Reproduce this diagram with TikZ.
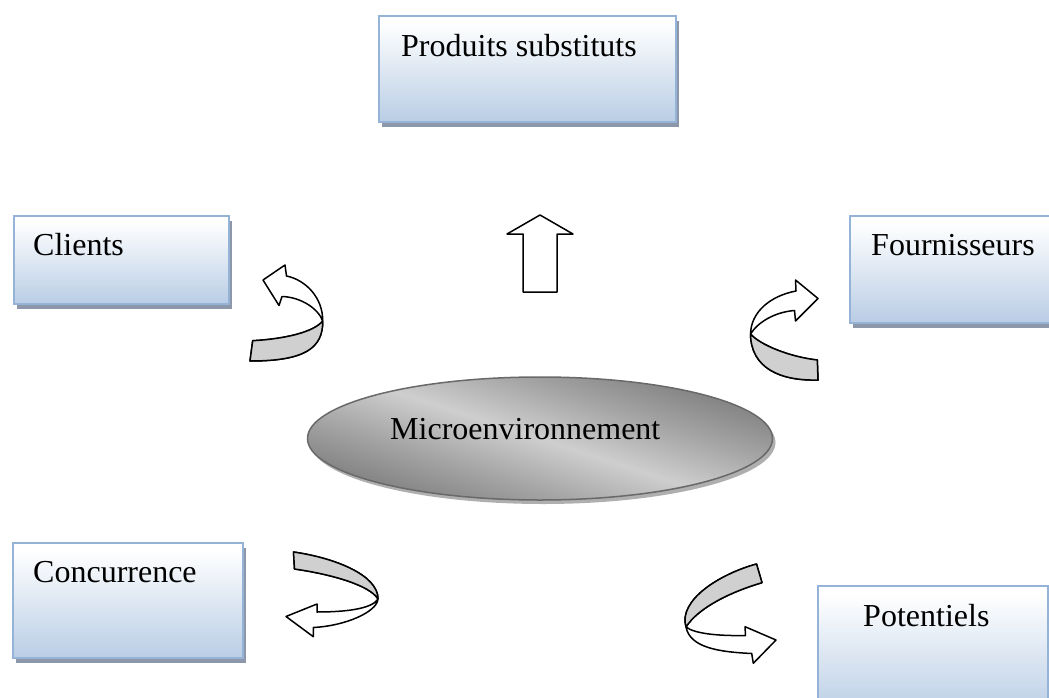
\documentclass[tikz,border=0pt]{standalone}
\usepackage{fontspec}
\setmainfont{Liberation Serif}
\usetikzlibrary{shapes.geometric,shadows}
\definecolor{boxblue}{RGB}{185,205,229}
\definecolor{boxline}{RGB}{149,179,215}
\definecolor{boxshadow}{RGB}{140,152,170}
\definecolor{elldark}{RGB}{125,125,125}
\definecolor{ellmid}{RGB}{165,165,165}
\definecolor{elllight}{RGB}{206,206,206}
\definecolor{ellline}{RGB}{105,105,105}
\definecolor{ellshadow}{RGB}{175,175,175}
\definecolor{ribbon}{RGB}{208,208,208}
\pgfdeclareverticalshading{boxsh}{100bp}{color(0bp)=(boxblue); color(25bp)=(boxblue); color(72bp)=(white); color(100bp)=(white)}
\pgfdeclareverticalshading{ellsh}{100bp}{color(0bp)=(elldark); color(25bp)=(elldark); color(38bp)=(ellmid); color(50bp)=(elllight); color(62bp)=(ellmid); color(75bp)=(elldark); color(100bp)=(elldark)}
\tikzset{
  box/.style={rectangle, draw=boxline, line width=2pt, shade, shading=boxsh, anchor=north west, inner sep=0pt,
    drop shadow={shadow xshift=3pt, shadow yshift=-5pt, fill=boxshadow, opacity=1}},
  lbl/.style={font=\fontsize{32}{38}\selectfont, inner sep=0pt, anchor=base west},
  rib/.style={line width=1.5pt, line join=round, draw=black},
}
\begin{document}
\begin{tikzpicture}[x=1pt,y=-1pt]
\useasboundingbox (0,0) rectangle (1049,698);
\clip (0,0) rectangle (1049,698);
% boxes
\node[box, minimum width=297pt, minimum height=106pt] (ps) at (378,15) {};
\node[box, minimum width=215pt, minimum height=88pt] (cl) at (13,215) {};
\node[box, minimum width=215pt, minimum height=107pt] (fo) at (849,215) {};
\node[box, minimum width=230pt, minimum height=115pt] (co) at (12,542) {};
\node[box, minimum width=230pt, minimum height=130pt] (po) at (817,585) {};
\node[lbl] (pst) at (401,57) {Produits substituts};
\node[lbl] (clt) at (33,255) {Clients};
\node[lbl] (fot) at (871,255) {Fournisseurs};
\node[lbl] (cot) at (33,582) {Concurrence};
\node[lbl] (pot) at (863,626) {Potentiels};
% ellipse
\node[ellipse, minimum width=465pt, minimum height=123pt, draw=ellline, line width=1.5pt,
  shade, shading=ellsh, shading angle=-18,
  drop shadow={shadow xshift=3pt, shadow yshift=-4pt, fill=ellshadow, opacity=1}] (me) at (540,438.5) {};
\node[lbl] (met) at (390,439) {Microenvironnement};
% up arrow
\filldraw[rib, fill=white] (540,215) -- (573,234) -- (557,234) -- (557,292) -- (523,292) -- (523,234) -- (507,234) -- cycle;
% Clients arrow
\filldraw[rib, fill=white] (286.5,276) .. controls (306,280) and (323,298) .. (322.7,321) .. controls (323,348) and (305,361) .. (250,361) -- (252.7,340.7) .. controls (285,339) and (314,332) .. (322.7,321) .. controls (318,308) and (300,297) .. (282,296.5) -- (279,305.5) -- (263,280) -- (285,265) -- cycle;
\filldraw[rib, fill=ribbon] (322.7,321) .. controls (323,348) and (305,361) .. (250,361) -- (252.7,340.7) .. controls (285,339) and (314,332) .. cycle;
% Fournisseurs arrow
\filldraw[rib, fill=white] (796,291) .. controls (770,296) and (751,312) .. (750.5,334) .. controls (751,368) and (780,381) .. (818,380) -- (817.3,360) .. controls (790,357) and (760,345) .. (750.5,334) .. controls (758,322) and (775,312) .. (794.5,310.5) -- (795.5,321) -- (818,298.5) -- (795.5,280) -- cycle;
\filldraw[rib, fill=ribbon] (750.5,334) .. controls (751,368) and (780,381) .. (818,380) -- (817.3,360) .. controls (790,357) and (760,345) .. cycle;
% Concurrence arrow
\filldraw[rib, fill=white] (293.5,552) .. controls (335,558) and (378,575) .. (378,599) .. controls (377,612) and (345,626) .. (313.3,627.5) -- (313.3,636.7) -- (286,616.5) -- (317,604) -- (317,612) .. controls (345,612) and (372,609) .. (378,599) .. controls (370,585) and (330,574) .. (294.5,569) -- cycle;
\filldraw[rib, fill=ribbon] (293.5,552) .. controls (335,558) and (378,575) .. (378,599) .. controls (370,585) and (330,574) .. (294.5,569) -- cycle;
% Potentiels arrow
\filldraw[rib, fill=white] (756.5,564) .. controls (720,574) and (678,600) .. (686,627) .. controls (690,648) and (720,652) .. (751.7,653.5) -- (753.3,663.3) -- (776,640) -- (745,626.7) -- (745.5,635.5) .. controls (720,636) and (695,634) .. (686,627) .. controls (698,608) and (730,592) .. (762,582.7) -- cycle;
\filldraw[rib, fill=ribbon] (756.5,564) .. controls (720,574) and (678,600) .. (686,627) .. controls (698,608) and (730,592) .. (762,582.7) -- cycle;
\end{tikzpicture}
\end{document}
